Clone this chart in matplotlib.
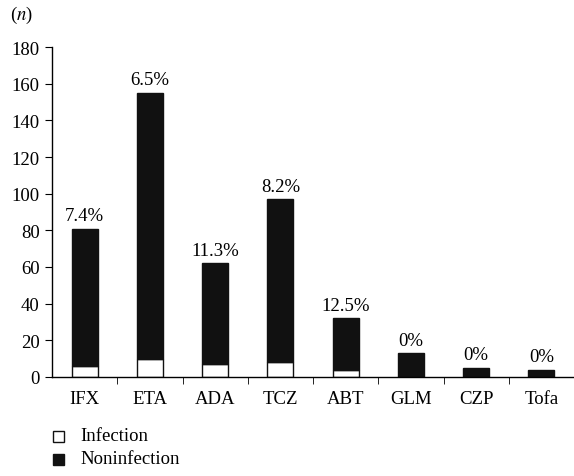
import matplotlib
matplotlib.use("Agg")
import matplotlib.pyplot as plt
import numpy as np
from matplotlib.patches import Rectangle

drugs = ["IFX", "ETA", "ADA", "TCZ", "ABT", "GLM", "CZP", "Tofa"]
infection = [6, 10, 7, 8, 4, 0, 0, 0]
noninfection = [75, 145, 55, 89, 28, 13, 5, 4]
pct_labels = ["7.4%", "6.5%", "11.3%", "8.2%", "12.5%", "0%", "0%", "0%"]

plt.rcParams["font.family"] = ["Liberation Serif", "DejaVu Serif"]
plt.rcParams["mathtext.fontset"] = "stix"
plt.rcParams["font.size"] = 13.5

fig = plt.figure(figsize=(5.74, 4.77), dpi=100)
ax = fig.add_axes([52 / 574, 1 - 378 / 477, 522 / 574, 330 / 477])

x = np.arange(len(drugs))
inf = np.array(infection)
non = np.array(noninfection)
ax.bar(x, inf, width=0.4, color="white", edgecolor="#111111", linewidth=1)
ax.bar(x, non, width=0.4, bottom=inf, color="#111111", edgecolor="#111111", linewidth=1)

for xi, total, lab in zip(x, inf + non, pct_labels):
    ax.text(xi, total + 2.5, lab, ha="center", va="bottom")

ax.set_xlim(-0.5, 7.5)
ax.set_ylim(0, 180)
ax.set_yticks(np.arange(0, 181, 20))
ax.set_xticks(x)
ax.set_xticklabels(drugs)
ax.tick_params(axis="x", which="major", length=0, pad=9)
ax.set_xticks(np.arange(0.5, 7, 1), minor=True)
ax.tick_params(axis="x", which="minor", length=5, direction="out")
ax.tick_params(axis="y", length=5, direction="out", pad=4)
ax.spines["top"].set_visible(False)
ax.spines["right"].set_visible(False)
for s in ["left", "bottom"]:
    ax.spines[s].set_linewidth(1)

fig.text(10 / 574, 1 - 15 / 477, "($n$)", ha="left", va="center")

# legend drawn manually at bottom left
fig.patches.append(Rectangle((53 / 574, 1 - 443 / 477), 11 / 574, 11 / 477,
                             transform=fig.transFigure, facecolor="white",
                             edgecolor="#111111", linewidth=1))
fig.patches.append(Rectangle((53 / 574, 1 - 466 / 477), 11 / 574, 11 / 477,
                             transform=fig.transFigure, facecolor="#111111",
                             edgecolor="#111111", linewidth=1))
fig.text(80 / 574, 1 - 437 / 477, "Infection", ha="left", va="center")
fig.text(80 / 574, 1 - 460 / 477, "Noninfection", ha="left", va="center")

fig.savefig("out.png", dpi=100)
